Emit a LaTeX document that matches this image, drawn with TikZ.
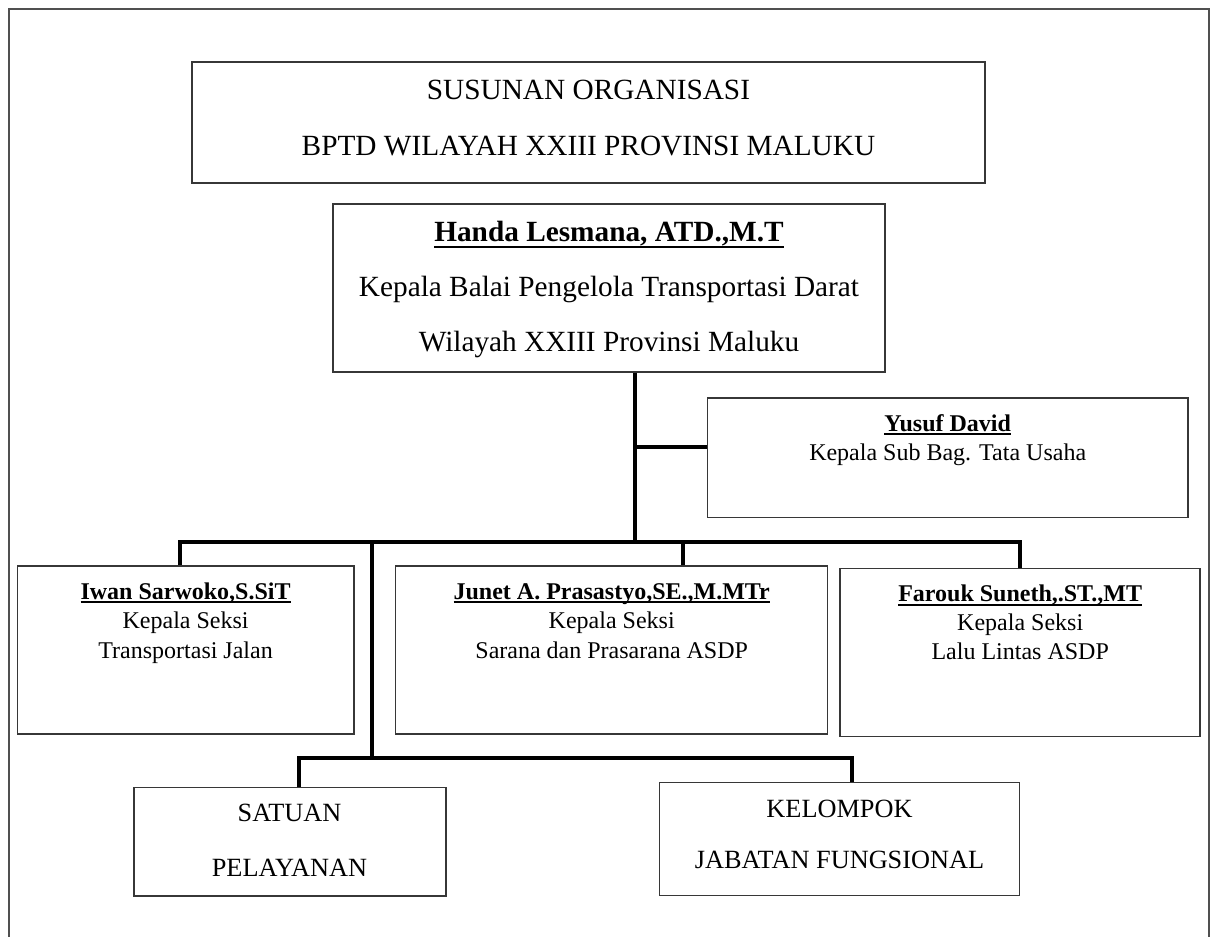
\documentclass[tikz,border=0pt]{standalone}
\usepackage{fontspec}
\setmainfont{Liberation Serif}
\newcommand\ulined[3]{\setbox0\hbox{#1}\leavevmode\rlap{\vrule height -#2 depth #3 width \wd0}\box0}
\definecolor{boxcol}{RGB}{55,55,55}
\definecolor{framecol}{RGB}{80,80,80}
\tikzset{
  orgbox/.style={draw=boxcol, line width=1.2pt, rectangle, inner sep=0pt},
  conn/.style={draw=black, line width=4pt, line join=miter},
  txt/.style={anchor=base, inner sep=0pt},
  big/.style={txt, font=\fontsize{29.3}{35}\selectfont},
  mid/.style={txt, font=\fontsize{26.3}{32}\selectfont},
  small/.style={txt, font=\fontsize{24}{29}\selectfont},
}
\begin{document}
\begin{tikzpicture}[x=1pt,y=-1pt]
\useasboundingbox (0,0) rectangle (1216,937);
% outer frame
\draw[framecol, line width=1.5pt] (9,940) -- (9,9) -- (1209,9) -- (1209,940);

% boxes
\node[orgbox, minimum width=793pt, minimum height=121pt] (title) at (588.5,122.5) {};
\node[orgbox, minimum width=552pt, minimum height=168pt] (head) at (609,288) {};
\node[orgbox, minimum width=480.7pt, minimum height=119.7pt] (yusuf) at (947.7,457.9) {};
\node[orgbox, minimum width=336.3pt, minimum height=168pt] (iwan) at (185.85,650) {};
\node[orgbox, minimum width=432pt, minimum height=168pt] (junet) at (611.7,650) {};
\node[orgbox, minimum width=360pt, minimum height=168.4pt] (farouk) at (1020,652.5) {};
\node[orgbox, minimum width=312pt, minimum height=108.3pt] (satuan) at (290,841.85) {};
\node[orgbox, minimum width=360pt, minimum height=113pt] (kelompok) at (839.3,838.8) {};

% texts
\node[big] (t1) at (588.5,99) {SUSUNAN ORGANISASI};
\node[big] (t2) at (588.5,155) {BPTD WILAYAH XXIII PROVINSI MALUKU};

\node[big] (h1) at (609,241.7) {\ulined{\bfseries Handa Lesmana, ATD.,M.T}{4pt}{6.5pt}};
\node[big] (h2) at (609,296) {Kepala Balai Pengelola Transportasi Darat};
\node[big] (h3) at (609,351.7) {Wilayah XXIII Provinsi Maluku};

\node[small] (y1) at (947.7,431) {\ulined{\bfseries Yusuf David}{2pt}{4pt}};
\node[small] (y2) at (947.7,460) {Kepala Sub Bag. Tata Usaha};

\node[small] (i1) at (185.6,599.3) {\ulined{\bfseries Iwan Sarwoko,S.SiT}{2pt}{4pt}};
\node[small] (i2) at (185.6,628) {Kepala Seksi};
\node[small] (i3) at (185.6,658) {Transportasi Jalan};

\node[small] (j1) at (611.7,599.3) {\ulined{\bfseries Junet A. Prasastyo,SE.,M.MTr}{2pt}{4pt}};
\node[small] (j2) at (611.7,628) {Kepala Seksi};
\node[small] (j3) at (611.7,658) {Sarana dan Prasarana ASDP};

\node[small] (f1) at (1020.2,601.7) {\ulined{\bfseries Farouk Suneth,.ST.,MT}{2pt}{4pt}};
\node[small] (f2) at (1020.2,630) {Kepala Seksi};
\node[small] (f3) at (1020.2,659.3) {Lalu Lintas ASDP};

\node[mid] (s1) at (289.5,821.7) {SATUAN};
\node[mid] (s2) at (289.5,876.7) {PELAYANAN};

\node[mid] (k1) at (839.5,817.3) {KELOMPOK};
\node[mid] (k2) at (839.5,868.3) {JABATAN FUNGSIONAL};

% connector points
\coordinate (trunk) at (635.3,542.3);
\coordinate (yj) at (635.3,446.7);
\coordinate (busL) at (179.8,542.3);
\coordinate (busR) at (1019.6,542.3);
\coordinate (jd) at (683.3,542.3);
\coordinate (lt) at (371.7,542.3);
\coordinate (lb) at (371.7,758);
\coordinate (lbL) at (299.3,758);
\coordinate (lbR) at (851.7,758);

% connectors
\draw[conn] (head.south -| trunk) -- (trunk);
\draw[conn] (yj) -- (yj -| yusuf.west);
\draw[conn] (iwan.north -| busL) -- (busL) -- (busR) -- (farouk.north -| busR);
\draw[conn] (jd) -- (jd |- junet.north);
\draw[conn] (lt) -- (lb);
\draw[conn] (satuan.north -| lbL) -- (lbL) -- (lbR) -- (kelompok.north -| lbR);
\end{tikzpicture}
\end{document}
